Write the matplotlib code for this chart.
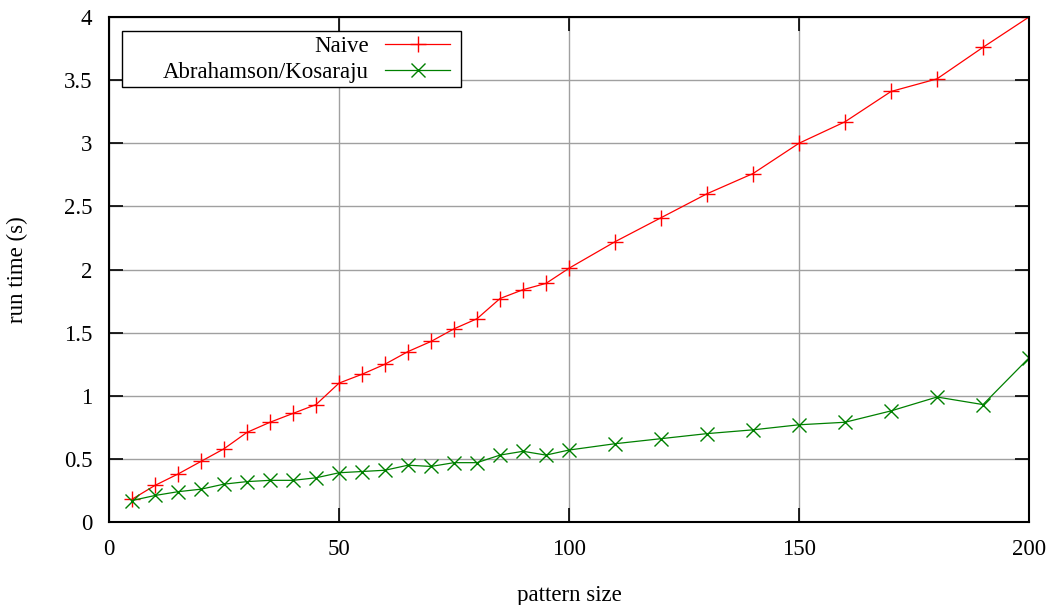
import matplotlib
matplotlib.use("Agg")
import matplotlib.pyplot as plt
from matplotlib.patches import Rectangle

# pattern sizes and measured run times (s)
sizes = [5, 10, 15, 20, 25, 30, 35, 40, 45, 50, 55, 60, 65, 70, 75, 80, 85,
         90, 95, 100, 110, 120, 130, 140, 150, 160, 170, 180, 190, 200]
naive = [0.18, 0.29, 0.38, 0.48, 0.58, 0.71, 0.79, 0.86, 0.93, 1.10, 1.17,
         1.25, 1.35, 1.43, 1.53, 1.61, 1.77, 1.84, 1.89, 2.01, 2.22, 2.41,
         2.60, 2.76, 3.00, 3.17, 3.41, 3.51, 3.76, 4.00]
abr_kos = [0.17, 0.21, 0.24, 0.26, 0.30, 0.32, 0.33, 0.33, 0.35, 0.39, 0.40,
           0.41, 0.45, 0.44, 0.47, 0.47, 0.53, 0.56, 0.53, 0.57, 0.62, 0.66,
           0.70, 0.73, 0.77, 0.79, 0.88, 0.99, 0.93, 1.30]
xticks = [0, 50, 100, 150, 200]
yticks = [0, 0.5, 1, 1.5, 2, 2.5, 3, 3.5, 4]
ytick_labels = ["0", "0.5", "1", "1.5", "2", "2.5", "3", "3.5", "4"]

plt.rcParams["font.family"] = ["Liberation Serif", "DejaVu Serif"]
FS = 16.5

fig = plt.figure(figsize=(10.47, 6.05), dpi=100)
ax = fig.add_axes([109 / 1047, 1 - 522 / 605, 920 / 1047, 505 / 605])

ax.plot(sizes, naive, color="#ff0000", lw=0.9, marker="+", ms=11, mew=1.0,
        label="Naive")
ax.plot(sizes, abr_kos, color="#008000", lw=0.9, marker="x", ms=10.5, mew=1.0,
        label="Abrahamson/Kosaraju")

ax.set_xlim(0, 200)
ax.set_ylim(0, 4)
ax.set_xticks(xticks)
ax.set_yticks(yticks)
ax.set_yticklabels(ytick_labels)
ax.grid(True, color="#a0a0a0", lw=1.0)
ax.set_axisbelow(True)
ax.tick_params(direction="in", length=10, width=1.2, top=True, right=True,
               labelsize=FS, pad=12, colors="black")
for s in ax.spines.values():
    s.set_linewidth(1.5)
    s.set_zorder(5)

ax.set_xlabel("pattern size", fontsize=FS, labelpad=18)
ax.set_ylabel("run time (s)", fontsize=FS, labelpad=26)

# gnuplot-style key: wide box, labels right-aligned, sample on the right
box_l, box_r = 13 / 920, 352 / 920
box_b, box_t = 1 - 70 / 505, 1 - 14 / 505
ax.add_patch(Rectangle((box_l, box_b), box_r - box_l, box_t - box_b,
                       transform=ax.transAxes, facecolor="white",
                       edgecolor="black", lw=1.0, zorder=4))
leg = ax.legend(loc="upper right", bbox_to_anchor=(box_r - 6 / 920, box_t),
                markerfirst=False, fontsize=FS, frameon=False,
                handlelength=2.85, borderaxespad=0, borderpad=0.2,
                labelspacing=0.22, handletextpad=0.7)
leg.set_zorder(6)

fig.savefig("out.png", dpi=100)
